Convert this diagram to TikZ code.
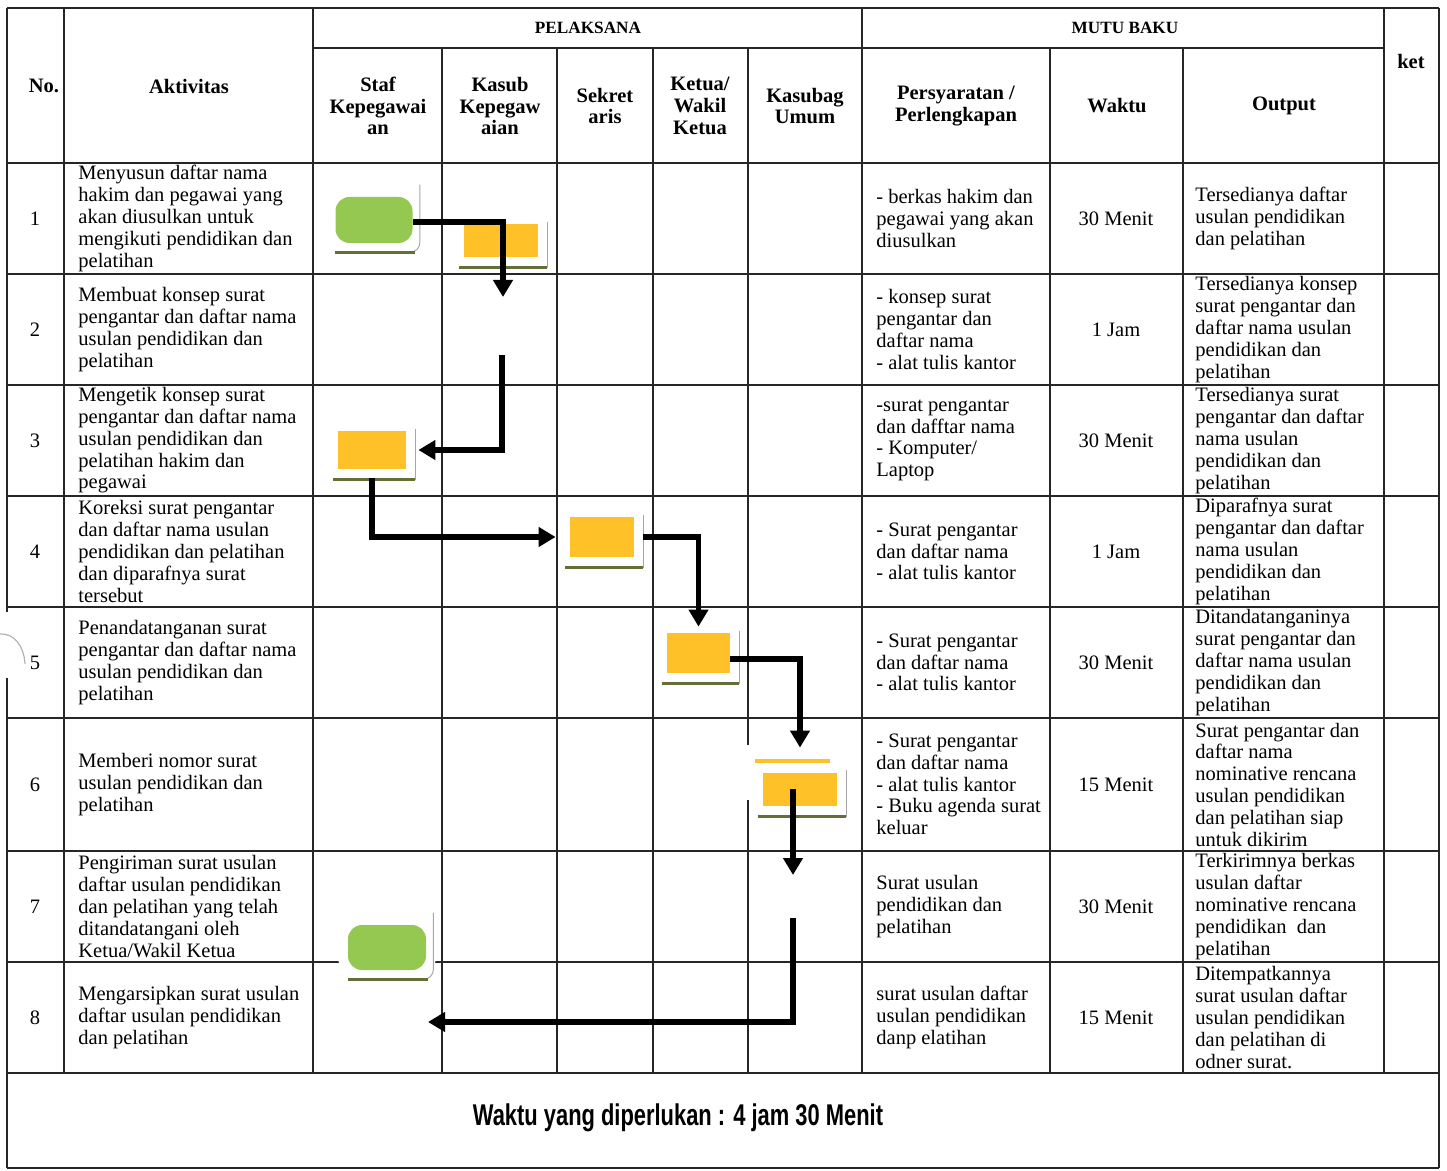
\documentclass[tikz,border=0pt]{standalone}
\usepackage{fontspec}
\setmainfont{Liberation Serif}
\newfontfamily\footfont[FakeStretch=0.73]{Liberation Sans}
\usetikzlibrary{calc,arrows.meta}

\definecolor{termgreen}{RGB}{148,200,80}
\definecolor{docyellow}{RGB}{255,193,40}
\definecolor{shadowolive}{RGB}{100,110,55}

\tikzset{
  gridline/.style={line width=0.75pt,black!85},
  txt/.style={inner sep=0pt,font=\fontsize{10.25}{10.9}\selectfont},
  celltxt/.style={txt,anchor=west,align=left},
  headtxt/.style={txt,align=center,font=\fontsize{10.25}{10.9}\selectfont\bfseries},
  captxt/.style={txt,font=\fontsize{8.6}{10.9}\selectfont\bfseries},
  halo/.style={preaction={draw=white,line width=#1}},
  halo/.default=10pt,
  term/.style={fill=termgreen,rounded corners=7pt,inner sep=0pt,halo},
  docbox/.style={fill=docyellow,inner sep=0pt,halo},
  shadowside/.style={line width=0.5pt,gray!70},
  shadowbase/.style={line width=1.6pt,shadowolive},
  flow/.style={line width=2.6pt,-{Triangle[width=9.5pt,length=8.5pt]}}
}
% shadow frame under a shape
\newcommand{\shadowframe}[1]{%
  \draw[shadowside] ([shift={(9,-2)}]#1.north east) -- ([shift={(9,11)}]#1.south east);
  \draw[shadowbase] ([shift={(-5,10)}]#1.south west) -- ([shift={(9,10)}]#1.south east);}
\newcommand{\termshadow}[1]{%
  \draw[shadowside,rounded corners=5pt] ([shift={(7,-12)}]#1.north east) -- ([shift={(7,9)}]#1.south east) -- ([shift={(-10,9)}]#1.south east);
  \draw[shadowbase] ([shift={(0,9)}]#1.south west) -- ([shift={(2,9)}]#1.south east);}

\begin{document}
\begin{tikzpicture}[x=0.5pt,y=-0.5pt]
  \useasboundingbox (0,0) rectangle (1447,1171);
  % table rules
  \foreach \y in {8,163,274,385,496,607,718,851,962,1073,1168}
    \draw[gridline] (7,\y) -- (1439,\y);
  \draw[gridline] (313,48) -- (1384,48);
  \foreach \x in {64,313,862,1384}
    \draw[gridline] (\x,8) -- (\x,1073);
  \foreach \x in {442,557,653,748,1050,1183}
    \draw[gridline] (\x,48) -- (\x,1073);
  \draw[gridline] (1439,8) -- (1439,1168);
  \draw[gridline] (7,8) -- (7,612) (7,678) -- (7,1168);
  % punch hole
  \draw[gray!60,line width=0.6pt] (0,634) .. controls (14,633) and (24,646) .. (25,664);

  % header
  \node[headtxt] (hNo) at (44,86) {No.};
  \node[headtxt] (hAkt) at (189,86) {Aktivitas};
  \node[captxt] (hPel) at (588,28) {PELAKSANA};
  \node[captxt] (hMutu) at (1125,28) {MUTU BAKU};
  \node[headtxt] (hStaf) at (378,106) {Staf\\Kepegawai\\an};
  \node[headtxt] (hKasub) at (500,106) {Kasub\\Kepegaw\\aian};
  \node[headtxt] (hSek) at (605,106) {Sekret\\aris};
  \node[headtxt] (hKetua) at (700,106) {Ketua/\\Wakil\\Ketua};
  \node[headtxt] (hUmum) at (805,106) {Kasubag\\Umum};
  \node[headtxt] (hSyarat) at (956,106) {Persyaratan /\\Perlengkapan};
  \node[headtxt] (hWaktu) at (1117,106) {Waktu};
  \node[headtxt] (hOut) at (1284,106) {Output};
  \node[headtxt] (hKet) at (1411,61) {ket};

  % rows
  \foreach \n/\y/\act/\req/\wkt/\out in {
    1/218.5/{Menyusun daftar nama\\hakim dan pegawai yang\\akan diusulkan untuk\\mengikuti pendidikan dan\\pelatihan}/{- berkas hakim dan\\pegawai yang akan\\diusulkan}/{30 Menit}/{Tersedianya daftar\\usulan pendidikan\\dan pelatihan},
    2/329.5/{Membuat konsep surat\\pengantar dan daftar nama\\usulan pendidikan dan\\pelatihan}/{- konsep surat\\pengantar dan\\daftar nama\\- alat tulis kantor}/{1 Jam}/{Tersedianya konsep\\surat pengantar dan\\daftar nama usulan\\pendidikan dan\\pelatihan},
    3/440.5/{Mengetik konsep surat\\pengantar dan daftar nama\\usulan pendidikan dan\\pelatihan hakim dan\\pegawai}/{-surat pengantar\\dan dafftar nama\\- Komputer/\\Laptop}/{30 Menit}/{Tersedianya surat\\pengantar dan daftar\\nama usulan\\pendidikan dan\\pelatihan},
    4/551.5/{Koreksi surat pengantar\\dan daftar nama usulan\\pendidikan dan pelatihan\\dan diparafnya surat\\tersebut}/{- Surat pengantar\\dan daftar nama\\- alat tulis kantor}/{1 Jam}/{Diparafnya surat\\pengantar dan daftar\\nama usulan\\pendidikan dan\\pelatihan},
    5/662.5/{Penandatanganan surat\\pengantar dan daftar nama\\usulan pendidikan dan\\pelatihan}/{- Surat pengantar\\dan daftar nama\\- alat tulis kantor}/{30 Menit}/{Ditandatanganinya\\surat pengantar dan\\daftar nama usulan\\pendidikan dan\\pelatihan},
    6/784.5/{Memberi nomor surat\\usulan pendidikan dan\\pelatihan}/{- Surat pengantar\\dan daftar nama\\- alat tulis kantor\\- Buku agenda surat\\keluar}/{15 Menit}/{Surat pengantar dan\\daftar nama\\nominative rencana\\usulan pendidikan\\dan pelatihan siap\\untuk dikirim},
    7/906.5/{Pengiriman surat usulan\\daftar usulan pendidikan\\dan pelatihan yang telah\\ditandatangani oleh\\Ketua/Wakil Ketua}/{Surat usulan\\pendidikan dan\\pelatihan}/{30 Menit}/{Terkirimnya berkas\\usulan daftar\\nominative rencana\\pendidikan~ dan\\pelatihan},
    8/1017.5/{Mengarsipkan surat usulan\\daftar usulan pendidikan\\dan pelatihan}/{surat usulan daftar\\usulan pendidikan\\danp elatihan}/{15 Menit}/{Ditempatkannya\\surat usulan daftar\\usulan pendidikan\\dan pelatihan di\\odner surat.}}{
    \node[txt] (no\n) at (35,\y) {\n};
    \node[celltxt] (act\n) at (78,\y) {\act};
    \node[celltxt] (req\n) at (876,\y) {\req};
    \node[txt] (wkt\n) at (1116,\y) {\wkt};
    \node[celltxt] (out\n) at (1195,\y) {\out};
  }

  % flow shapes
  \node[term,minimum width=38.5pt,minimum height=23pt] (t1) at (374,220) {};
  \node[docbox,minimum width=37pt,minimum height=16.5pt] (k1) at (501,240.5) {};
  \node[docbox,minimum width=34pt,minimum height=19pt] (k3) at (372,450) {};
  \node[docbox,minimum width=32pt,minimum height=20pt] (k4) at (602,537) {};
  \node[docbox,minimum width=31.5pt,minimum height=20pt] (k5) at (698.5,653) {};
  \fill[white] (744,745) rectangle (752,800);
  \node[docbox,minimum width=37pt,minimum height=17pt] (k6) at (800,789) {};
  \node[docbox,minimum width=37.5pt,minimum height=2pt,halo=6pt] (k6top) at (792.5,761) {};
  \node[term,minimum width=39pt,minimum height=22.5pt] (t2) at (387,947.5) {};
  \termshadow{t1}
  \termshadow{t2}
  \foreach \k in {k1,k3,k4,k5,k6}{
    \shadowframe{\k}
  }

  % connectors
  \coordinate (a1) at (503,297);
  \coordinate (b1) at (502,355);
  \coordinate (a2) at (793,875);
  \coordinate (b2) at (793,918);
  \coordinate (e8) at (428,1022);
  \draw[flow] ([yshift=-1pt]t1.east) -| (a1);
  \draw[flow,shorten >=6pt] (b1) |- (k3.east);
  \draw[flow,shorten <=4.5pt,shorten >=7pt] (k3.south) |- (k4.west);
  \draw[flow,shorten <=4.5pt,shorten >=3pt] (k4.east) -| (k5.north);
  \draw[flow,shorten >=12pt] ([yshift=-3pt]k5.east) -| (k6.north);
  \draw[flow] (a2 |- k6.center) -- (a2);
  \draw[flow] (b2) |- (e8);

  % total time
  \node[inner sep=0pt,font={\fontsize{15}{18}\footfont\bfseries}] (total) at (678,1118) {Waktu yang diperlukan : 4 jam 30 Menit};
\end{tikzpicture}
\end{document}
